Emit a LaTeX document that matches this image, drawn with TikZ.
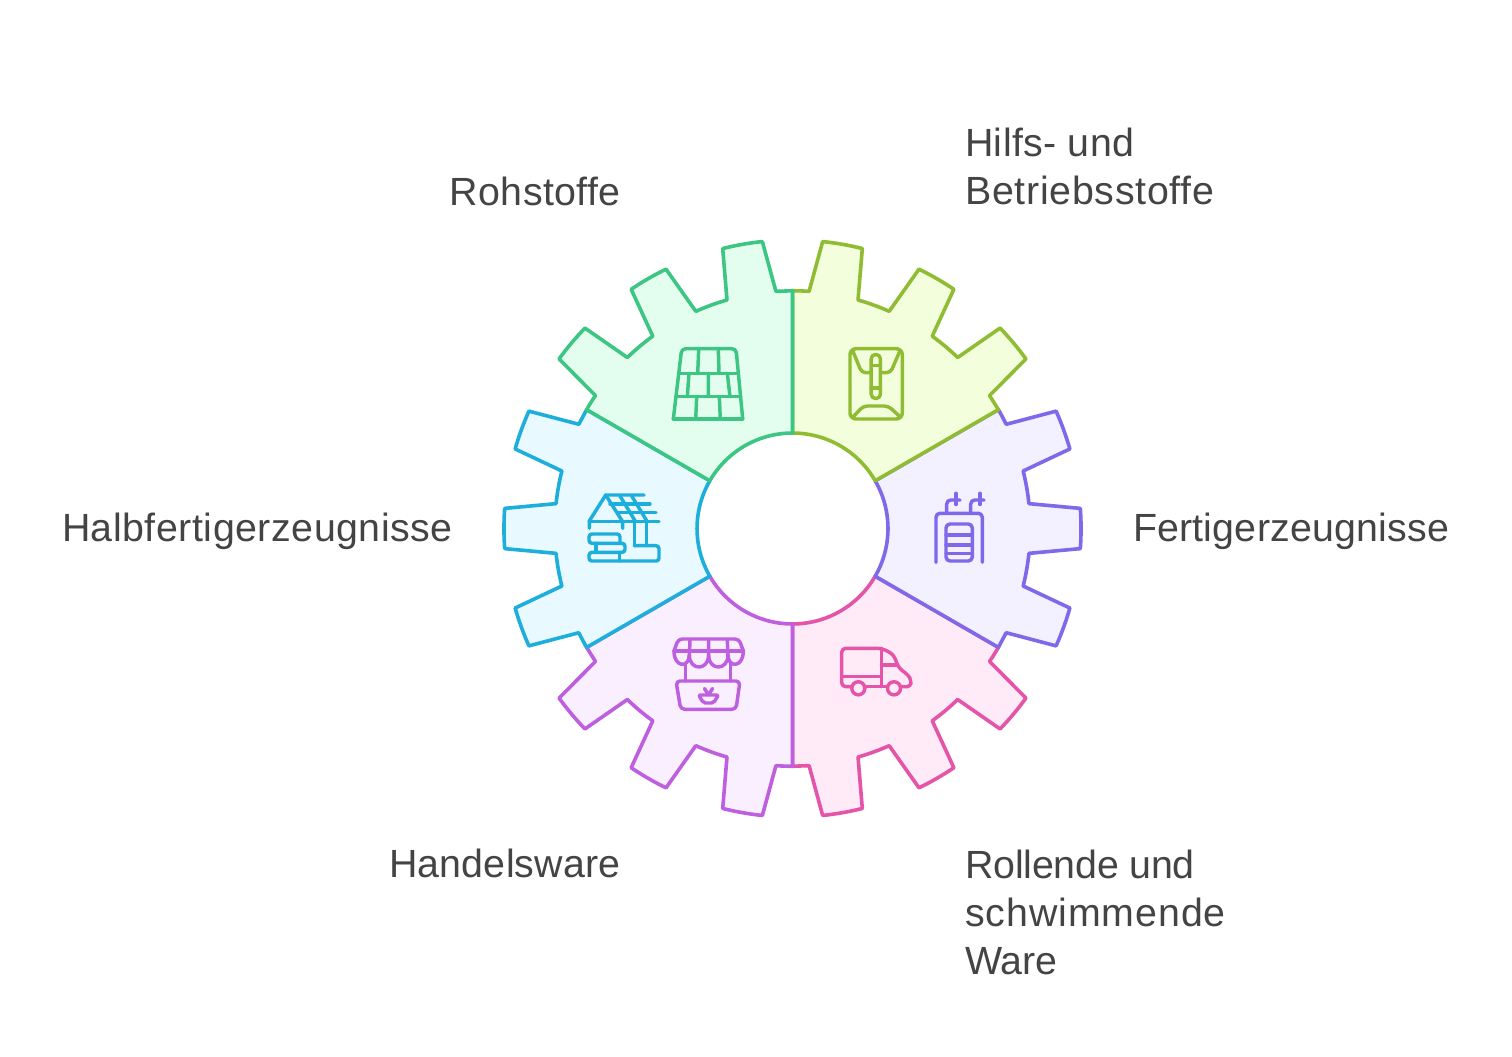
\documentclass[tikz,border=0pt]{standalone}
\usepackage{fontspec}
\setmainfont[Ligatures=NoCommon]{Liberation Sans}
\definecolor{greenS}{HTML}{3CC583}\definecolor{greenF}{HTML}{E3FEEF}
\definecolor{limeS}{HTML}{8FBC32}\definecolor{limeF}{HTML}{F3FFDC}
\definecolor{purpS}{HTML}{8068EA}\definecolor{purpF}{HTML}{F3F1FF}
\definecolor{pinkS}{HTML}{E454A8}\definecolor{pinkF}{HTML}{FFEBF7}
\definecolor{violS}{HTML}{BE5FE0}\definecolor{violF}{HTML}{FAEFFF}
\definecolor{blueS}{HTML}{1EAEDB}\definecolor{blueF}{HTML}{E8F9FF}
\definecolor{labelC}{HTML}{444444}
\tikzset{
  sectorline/.style={line width=2.7pt,line join=round},
  iconline/.style={line width=2.6pt,line join=round,line cap=round},
  lbl/.style={inner sep=0pt,text=labelC,font=\fontsize{29.5}{36}\selectfont,align=left},
}
\newcommand\lsp[2]{{\addfontfeature{LetterSpace=#1}#2}}
\newcommand\gearsector[3]{%
  \begin{scope}[shift={(792.5,528.5)},rotate=#1]
  \draw[sectorline,draw=#2,fill=#3]
    (90:71.6pt) -- (90:178.3pt) -- (94:178.3pt) -- (96:216.4pt)
    arc[start angle=96,end angle=104,radius=216.4pt] -- (106:178.3pt)
    arc[start angle=106,end angle=114,radius=178.3pt] -- (116:216.4pt)
    arc[start angle=116,end angle=124,radius=216.4pt] -- (126:178.3pt)
    arc[start angle=126,end angle=134,radius=178.3pt] -- (136:216.4pt)
    arc[start angle=136,end angle=144,radius=216.4pt] -- (146:178.3pt)
    arc[start angle=146,end angle=150,radius=178.3pt] -- (150:71.6pt)
    arc[start angle=150,end angle=90,radius=71.6pt] -- cycle;
  \end{scope}}
\begin{document}
\begin{tikzpicture}[x=0.75pt,y=-0.75pt]
\useasboundingbox (0,0) rectangle (1512,1056);
\fill[white] (0,0) rectangle (1512,1056);
% sectors
\gearsector{180}{pinkS}{pinkF}
\gearsector{240}{purpS}{purpF}
\gearsector{120}{violS}{violF}
\gearsector{-60}{limeS}{limeF}
\gearsector{60}{blueS}{blueF}
\gearsector{0}{greenS}{greenF}
% green icon
\begin{scope}[iconline,draw=greenS]
\draw[rounded corners=3pt] (673.3,419) -- (681.7,348.7) -- (736,348.7) -- (742.7,419);
\draw (673.3,419) -- (742.7,419);
\draw (678.6,373.3) -- (738.5,373.3) (675.9,396.7) -- (740.6,396.7);
\draw (698.7,348.7) -- (697.7,373.3) (718.3,348.7) -- (719,373.3);
\draw (689,373.3) -- (687.3,396.7) (708.3,373.3) -- (708.3,396.7) (727.3,373.3) -- (730,396.7);
\draw (696.7,396.7) -- (695.7,419) (719.3,396.7) -- (720.3,419);
\end{scope}
% lime icon
\begin{scope}[iconline,draw=limeS]
\draw[rounded corners=4.5pt] (850,348.7) rectangle (902.3,419);
\draw[rounded corners=3pt] (852.7,350.7) -- (861.7,372.7) -- (890.5,372.7) -- (900,350.7);
\draw[rounded corners=3pt] (853.3,416.7) -- (863.3,406) -- (888.3,406) -- (900,416.7);
\draw[rounded corners=3.2pt,fill=limeF] (871.2,354.5) rectangle (880.4,398.5);
\draw (871.2,365.5) -- (880.4,365.5) (871.2,387.8) -- (880.4,387.8);
\end{scope}
% purple icon
\begin{scope}[iconline,draw=purpS]
\draw[rounded corners=3pt] (936,562.3) -- (936,513.3) -- (982.3,513.3) -- (982.3,562.3);
\draw[rounded corners=3pt] (946,524) rectangle (972.3,561);
\draw (946,535) -- (972.3,535) (946,545) -- (972.3,545) (946,553.3) -- (972.3,553.3);
\draw[rounded corners=3pt] (946.7,513.3) -- (946.7,500) -- (960,500);
\draw[rounded corners=3pt] (970.7,513.3) -- (970.7,500) -- (984,500);
\draw (956,493.3) -- (956,504.5) (980,493.3) -- (980,504.5);
\end{scope}
% pink icon
\begin{scope}[iconline,draw=pinkS]
\draw[rounded corners=3pt] (851.5,686.7) -- (841.7,686.7) -- (841.7,648.3) -- (881.7,648.3) -- (893.3,654.3) -- (899,668.3) -- (908.3,675) -- (911,680) -- (911,686.7) -- (900.5,686.7);
\draw (841.7,676.7) -- (881,676.7) (881.3,648.3) -- (881.3,686.7) (881.5,665) -- (896.5,665);
\draw (865,686.7) -- (887.5,686.7);
\draw (858.3,688.3) circle[radius=4.9pt] (894,688.3) circle[radius=4.9pt];
\end{scope}
% violet icon
\begin{scope}[iconline,draw=violS]
\draw[rounded corners=3pt] (674,651) -- (678.3,639) -- (739,639) -- (743.3,651);
\draw (674,651) -- (743.3,651);
\draw (690,640) -- (689.3,658) (708.6,640) -- (708.6,658) (727.3,640) -- (728,658);
\draw (674,651) .. controls (674,668) and (689.3,668) .. (689.3,655)
      .. controls (689.3,671) and (708.6,671) .. (708.6,655)
      .. controls (708.6,671) and (728,671) .. (728,655)
      .. controls (728,668) and (743.3,668) .. (743.3,651);
\draw (685.7,663) -- (685.7,681) (730.5,663) -- (730.5,681);
\draw[rounded corners=3pt] (676,681) -- (740,681) -- (736,709.3) -- (680.7,709.3) -- cycle;
\draw[rounded corners=1.5pt] (698.5,695) -- (703.5,703) -- (713.5,703) -- (718.5,695) -- cycle;
\draw (704.5,688.5) -- (707.5,693.5) (712.5,688.5) -- (709.5,693.5);
\end{scope}
% blue icon
\begin{scope}[iconline,draw=blueS]
\draw (644,495) -- (605.7,495) -- (589.3,521) -- (589.3,528.3);
\draw (589.3,521.7) -- (659,521.7);
\draw (605.7,495) -- (622.7,521.7) -- (622.7,528.3);
\draw (610,504) -- (650,504) (618.3,512.7) -- (656,512.7);
\draw (620,496) -- (635,520.7) (631.7,496) -- (646.7,520.7);
\draw (634.3,521.7) -- (634.3,545.7) (646.7,521.7) -- (646.7,545.7);
\draw[rounded corners=2.2pt] (634.3,545.7) -- (659,545.7) -- (659,561) -- (589,561) -- (589,552.3) -- (625,552.3) -- (625,543.3) -- (589,543.3) -- (589,534) -- (620,534) -- (620,543.3);
\draw (596,543.3) -- (596,552.3) (619.3,552.3) -- (619.3,561);
\end{scope}
% labels
\node[lbl,anchor=base east] (rohstoffe) at (621,205) {\lsp{1.1}{Rohstoffe}};
\node[lbl,anchor=north west] (hilfs) at (965,128) {\lsp{0.9}{Hilfs- und}\\\lsp{1.8}{Betriebsstoffe}};
\node[lbl,anchor=base west] (fertig) at (1133,541) {\lsp{0.5}{Fertigerzeugnisse}};
\node[lbl,anchor=base east] (halb) at (453,541) {\lsp{1.3}{Halbfertigerzeugnisse}};
\node[lbl,anchor=base east] (handel) at (621,877) {\lsp{0.5}{Handelsware}};
\node[lbl,anchor=north west] (rollende) at (965,850) {\lsp{-0.6}{Rollende und}\\\lsp{2.3}{schwimmende}\\Ware};
\end{tikzpicture}
\end{document}
